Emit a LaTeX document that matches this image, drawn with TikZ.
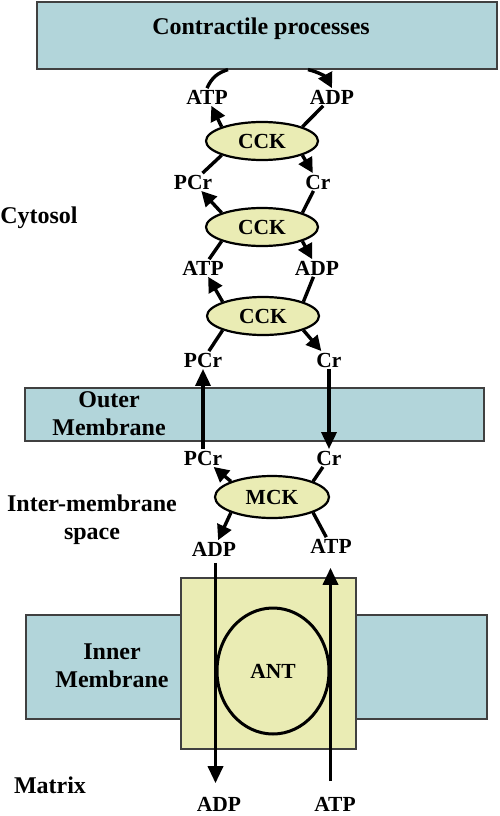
\documentclass[tikz,border=0pt]{standalone}
\usepackage{fontspec}
\setmainfont{Liberation Serif}
\usetikzlibrary{shapes.geometric,arrows.meta}
\definecolor{membrane}{RGB}{178,213,218}
\definecolor{enzyme}{RGB}{234,236,180}
\tikzset{
  band/.style={draw=black!75, line width=1.2pt, fill=membrane},
  kinase/.style={ellipse, draw, line width=2.2pt, fill=enzyme, minimum width=112pt, minimum height=38pt, font=\fontsize{21.5}{24}\selectfont\bfseries},
  chem/.style={inner sep=1.5pt, font=\fontsize{21.5}{24}\selectfont\bfseries},
  region/.style={align=center, font=\fontsize{24}{28}\selectfont\bfseries},
  stub/.style={line width=3.4pt},
  prod/.style={stub, -{Triangle[length=15pt,width=15pt]}},
  flow/.style={line width=3.4pt, -{Triangle[length=17pt,width=15pt]}}
}

\begin{document}
\begin{tikzpicture}[x=1pt,y=-1pt]
    \useasboundingbox (0,0) rectangle (499,816);

    % Boxes and membranes
    \node[band, minimum width=460pt, minimum height=67pt] (top) at (267,35.5) {};
    \node[region] at (261,29) {Contractile processes};
    \draw[band] (25,388) rectangle (484,441);
    \draw[band] (26,615) rectangle (487,719);
    \fill[enzyme] (181,578) rectangle (356,749);
    \draw[black!75, line width=1.2pt] (181,578) rectangle (356,749);
    \node[ellipse, draw, line width=3pt, minimum width=112pt, minimum height=126pt,
          font=\fontsize{21.5}{24}\selectfont\bfseries] (ant) at (273,671) {ANT};

    % Region labels
    \node[region] at (39,218) {Cytosol};
    \node[region] at (109,414) {Outer\\Membrane};
    \node[region] at (92,520) {Inter-membrane\\space};
    \node[region] at (112,666) {Inner\\Membrane};
    \node[region] at (50,785) {Matrix};

    % Kinases
    \node[kinase] (cck1) at (262,141) {CCK};
    \node[kinase] (cck2) at (262,227) {CCK};
    \node[kinase] (cck3) at (263,316) {CCK};
    \node[kinase, minimum width=114pt, minimum height=42pt] (mck) at (272,497) {MCK};

    % Metabolites
    \node[chem] (atpA) at (207,97) {ATP};
    \node[chem] (adpA) at (332,97) {ADP};
    \node[chem] (pcrA) at (193,182) {PCr};
    \node[chem] (crA) at (318,182) {Cr};
    \node[chem] (atpB) at (203,268) {ATP};
    \node[chem] (adpB) at (317,268) {ADP};
    \node[chem] (pcrB) at (203,360) {PCr};
    \node[chem] (crB) at (329,360) {Cr};
    \node[chem] (pcrC) at (203,458) {PCr};
    \node[chem] (crC) at (329,458) {Cr};
    \node[chem] (adpM) at (214,549) {ADP};
    \node[chem] (atpM) at (331,546) {ATP};
    \node[chem] (adpX) at (219,804) {ADP};
    \node[chem] (atpX) at (335,804) {ATP};

    % Contractile processes
    \coordinate (useA) at ([xshift=-39pt]top.south);
    \coordinate (useB) at ([xshift=41pt]top.south);
    \draw[stub] (atpA.north) to[bend left=25] (useA);
    \draw[prod] (useB) to[bend left=25] (adpA.north);

    % CCK cycles
    \draw[prod] (cck1.north west) -- (atpA);
    \draw[stub] (adpA) -- (cck1.north east);
    \draw[stub] (pcrA) -- (cck1.south west);
    \draw[prod] (cck1.south east) -- (crA);

    \draw[prod] (cck2.north west) -- (pcrA);
    \draw[stub] (crA) -- (cck2.north east);
    \draw[stub] (atpB) -- (cck2.south west);
    \draw[prod] (cck2.south east) -- (adpB);

    \draw[prod] (cck3.north west) -- (atpB);
    \draw[stub] (adpB) -- (cck3.north east);
    \draw[stub] (pcrB) -- (cck3.south west);
    \draw[prod] (cck3.south east) -- (crB);

    % Across the outer membrane
    \draw[flow] (pcrC) -- (pcrB);
    \draw[flow] (crB) -- (crC);

    % MCK
    \draw[prod] (mck.north west) -- (pcrC);
    \draw[stub] (crC) -- (mck.north east);
    \draw[prod] (mck.south west) -- (adpM);
    \draw[stub] (atpM) -- (mck.south east);

    % Across the inner membrane
    \draw[flow] ([yshift=-5pt]adpM.south -| ant.west) -- ([yshift=12pt]adpX.north -| ant.west);
    \draw[flow] ([yshift=14pt]atpX.north -| ant.east) -- ([yshift=-13pt]atpM.south -| ant.east);
\end{tikzpicture}
\end{document}
